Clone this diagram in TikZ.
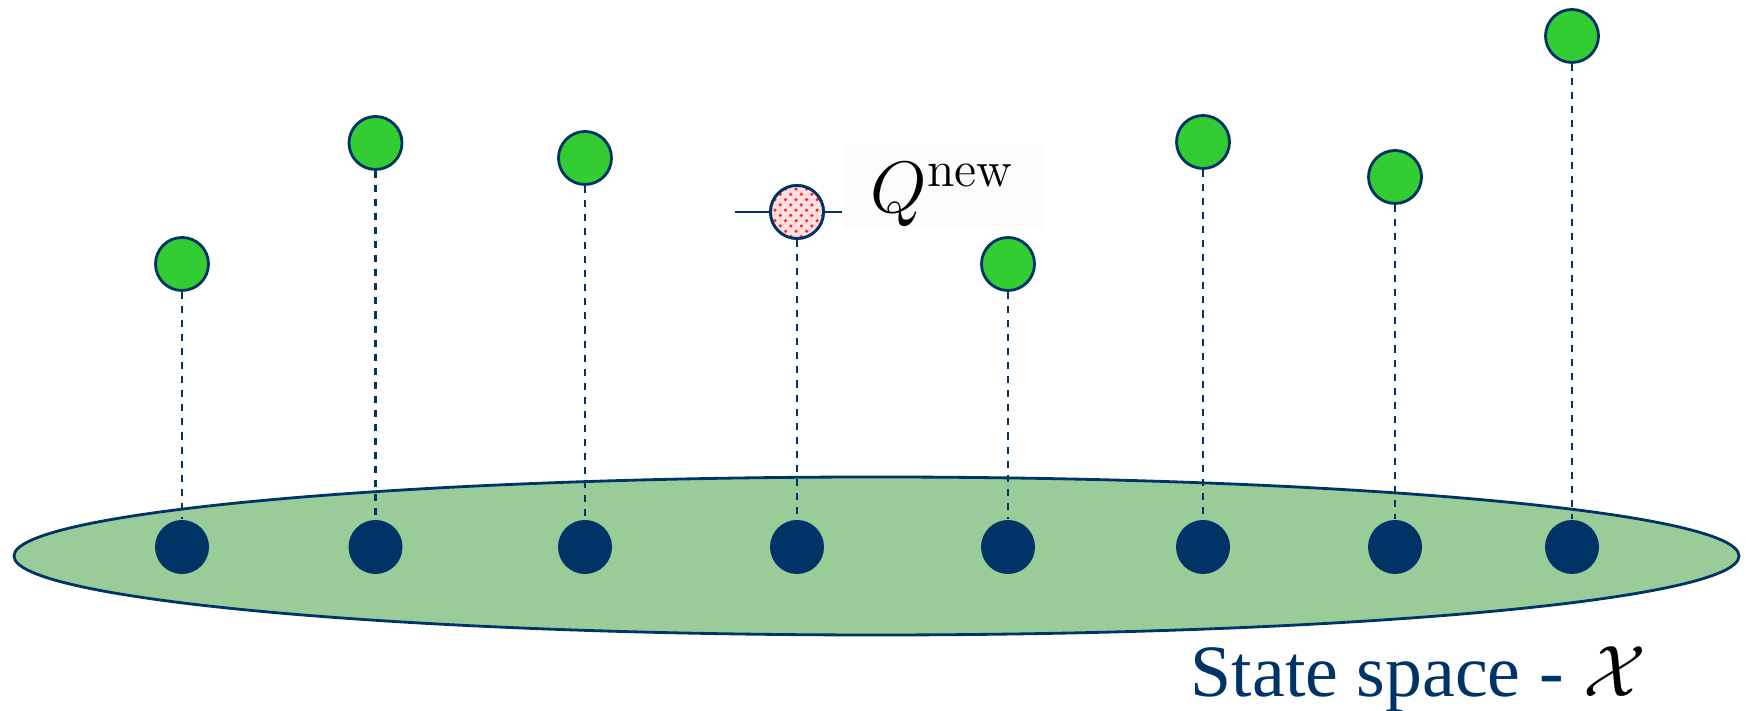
\documentclass[tikz,border=0pt]{standalone}
\usepackage[no-math]{fontspec}
\usepackage{xcolor}
\usepackage{tikz}
\usetikzlibrary{positioning, shapes.geometric, patterns}
\setmainfont{Liberation Serif}
\definecolor{navy}{HTML}{003366}
\definecolor{leaf}{HTML}{33CC33}
\definecolor{meadow}{HTML}{99CC99}
\tikzset{
  region/.style={ellipse, draw=navy, line width=0.8pt, fill=meadow,
                 minimum width=17.25cm, minimum height=1.58cm, inner sep=0pt},
  state/.style={circle, fill=navy, minimum size=5.4mm, inner sep=0pt},
  qval/.style={circle, draw=navy, line width=0.8pt, fill=leaf,
               minimum size=5.3mm, inner sep=0pt},
  qnew/.style={circle, draw=navy, line width=0.8pt, preaction={fill=red!12},
               pattern=crosshatch dots, pattern color=red!85,
               minimum size=5.3mm, inner sep=0pt},
  drop/.style={draw=navy, line width=0.8pt, dash pattern=on 2pt off 2pt},
  tag/.style={font=\fontsize{22.5pt}{26pt}\selectfont, fill=black!1.5,
              inner xsep=2.8mm, inner ysep=0pt, text height=6.9mm,
              text depth=1.6mm, anchor=base west},
}

\begin{document}
\begin{tikzpicture}
  \useasboundingbox (0,0) rectangle (17.47,7.11);

  % the state space
  \node[region] (space) at (8.765,1.55) {};

  % sampled states
  \node[state] (s1) at (1.82,1.64) {};
  \node[state] (s2) at (3.755,1.64) {};
  \node[state] (s3) at (5.85,1.64) {};
  \node[state] (s4) at (7.97,1.64) {};
  \node[state] (s5) at (10.08,1.64) {};
  \node[state] (s6) at (12.03,1.64) {};
  \node[state] (s7) at (13.95,1.64) {};
  \node[state] (s8) at (15.72,1.64) {};

  % values above each state
  \node[qval] (q1) at (1.82,4.47) {};
  \node[qval] (q2) at (3.755,5.68) {};
  \node[qval] (q3) at (5.85,5.53) {};
  \node[qnew] (q4) at (7.97,4.99) {};
  \node[qval] (q5) at (10.08,4.47) {};
  \node[qval] (q6) at (12.03,5.69) {};
  \node[qval] (q7) at (13.95,5.34) {};
  \node[qval] (q8) at (15.72,6.75) {};

  \draw[drop] (q1) -- (s1.north);
  \draw[drop] (q2) -- (s2.north);
  \draw[drop] (q3) -- (s3.north);
  \draw[drop] (q4) -- (s4.north);
  \draw[drop] (q5) -- (s5.north);
  \draw[drop] (q6) -- (s6.north);
  \draw[drop] (q7) -- (s7.north);
  \draw[drop] (q8) -- (s8.north);

  % new estimate and its label
  \node[tag] (qlabel) at (8.42,4.98) {$Q^{\mathrm{new}}$};
  \coordinate (qstart) at (7.35,4.99);
  \draw[navy, line width=0.8pt] (qstart) -- (qstart -| qlabel.west);
  \node[qnew] at (q4) {};

  \node[anchor=base west, inner sep=0pt, font=\fontsize{21pt}{24pt}\selectfont]
    (caption) at (11.90,0.14) {\textcolor{navy}{State space -}\hspace{5.5pt}$\mathcal{X}$};
\end{tikzpicture}
\end{document}
